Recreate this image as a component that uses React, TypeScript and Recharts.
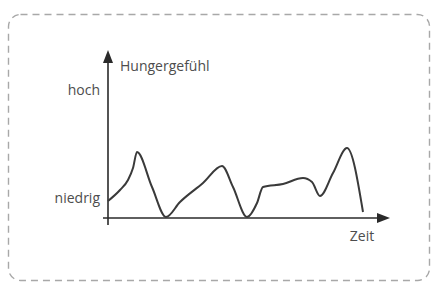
import { LineChart, Line, XAxis, YAxis, ReferenceLine, ReferenceDot, Label } from 'recharts'

// Zeit (willkürliche Einheiten) und Hungergefühl
const zeit = [0, 12, 20, 25, 29, 44, 58, 72, 95, 114, 125, 139, 149, 155, 175, 195, 204, 212, 225, 239, 255]
const hunger = [17, 28, 38, 50, 66, 31, 1, 16, 35, 52, 31, 1, 15, 31, 34, 40, 36, 22, 45, 70, 6]

const yTicks = [20, 128]
const yTickLabels: Record<number, string> = { 20: 'niedrig', 128: 'hoch' }

const xMax = 282
const yMax = 170

const data = zeit.map((t, i) => ({ t, v: hunger[i] }))

const textColor = '#4d4d4d'
const axisColor = '#2a2a2a'
const font = '"Open Sans", sans-serif'

const arrowRight = (p: any) => (
  <path d={`M${p.cx - 13},${p.cy - 5} L${p.cx},${p.cy} L${p.cx - 13},${p.cy + 5} Z`} fill={axisColor} />
)
const arrowUp = (p: any) => (
  <path d={`M${p.cx - 5},${p.cy + 13} L${p.cx},${p.cy} L${p.cx + 5},${p.cy + 13} Z`} fill={axisColor} />
)

export default function App() {
  return (
    <div style={{ position: 'absolute', left: 0, top: 0, width: 433, height: 282, background: '#fff', overflow: 'hidden' }}>
      <svg width={433} height={282} style={{ position: 'absolute', left: 0, top: 0 }}>
        <rect
          x={8.5}
          y={14.5}
          width={421}
          height={266}
          rx={12}
          fill="none"
          stroke="#a8a8a8"
          strokeWidth={1.4}
          strokeDasharray="7 5"
        />
      </svg>
      <div style={{ position: 'absolute', left: 0, top: 0 }}>
        <LineChart width={433} height={282} data={data} margin={{ top: 48, right: 43, bottom: 64, left: 48 }}>
          <XAxis dataKey="t" type="number" domain={[0, xMax]} hide />
          <YAxis
            type="number"
            domain={[0, yMax]}
            width={60}
            ticks={yTicks}
            tickFormatter={(v: number) => yTickLabels[v] ?? ''}
            tickLine={false}
            axisLine={false}
            tick={{ fill: textColor, fontSize: 14, fontFamily: font }}
          />
          <ReferenceLine
            segment={[{ x: -5, y: 0 }, { x: xMax - 4, y: 0 }]}
            stroke={axisColor}
            strokeWidth={1.6}
            ifOverflow="visible"
          />
          <ReferenceLine
            segment={[{ x: 0, y: -7 }, { x: 0, y: yMax - 6 }]}
            stroke={axisColor}
            strokeWidth={1.6}
            ifOverflow="visible"
          />
          <ReferenceDot x={xMax} y={0} r={0} shape={arrowRight} ifOverflow="visible">
            <Label
              content={(p: any) => (
                <text x={p.viewBox.x - 28} y={p.viewBox.y + 23} textAnchor="middle" fill={textColor} fontSize={14} fontFamily={font}>
                  Zeit
                </text>
              )}
            />
          </ReferenceDot>
          <ReferenceDot x={0} y={yMax - 2} r={0} shape={arrowUp} ifOverflow="visible">
            <Label
              content={(p: any) => (
                <text x={p.viewBox.x + 12} y={p.viewBox.y + 21} textAnchor="start" fill={textColor} fontSize={14} fontFamily={font}>
                  Hungergefühl
                </text>
              )}
            />
          </ReferenceDot>
          <Line
            dataKey="v"
            type="monotone"
            stroke="#3a3a3a"
            strokeWidth={2}
            dot={false}
            isAnimationActive={false}
          />
        </LineChart>
      </div>
    </div>
  )
}
